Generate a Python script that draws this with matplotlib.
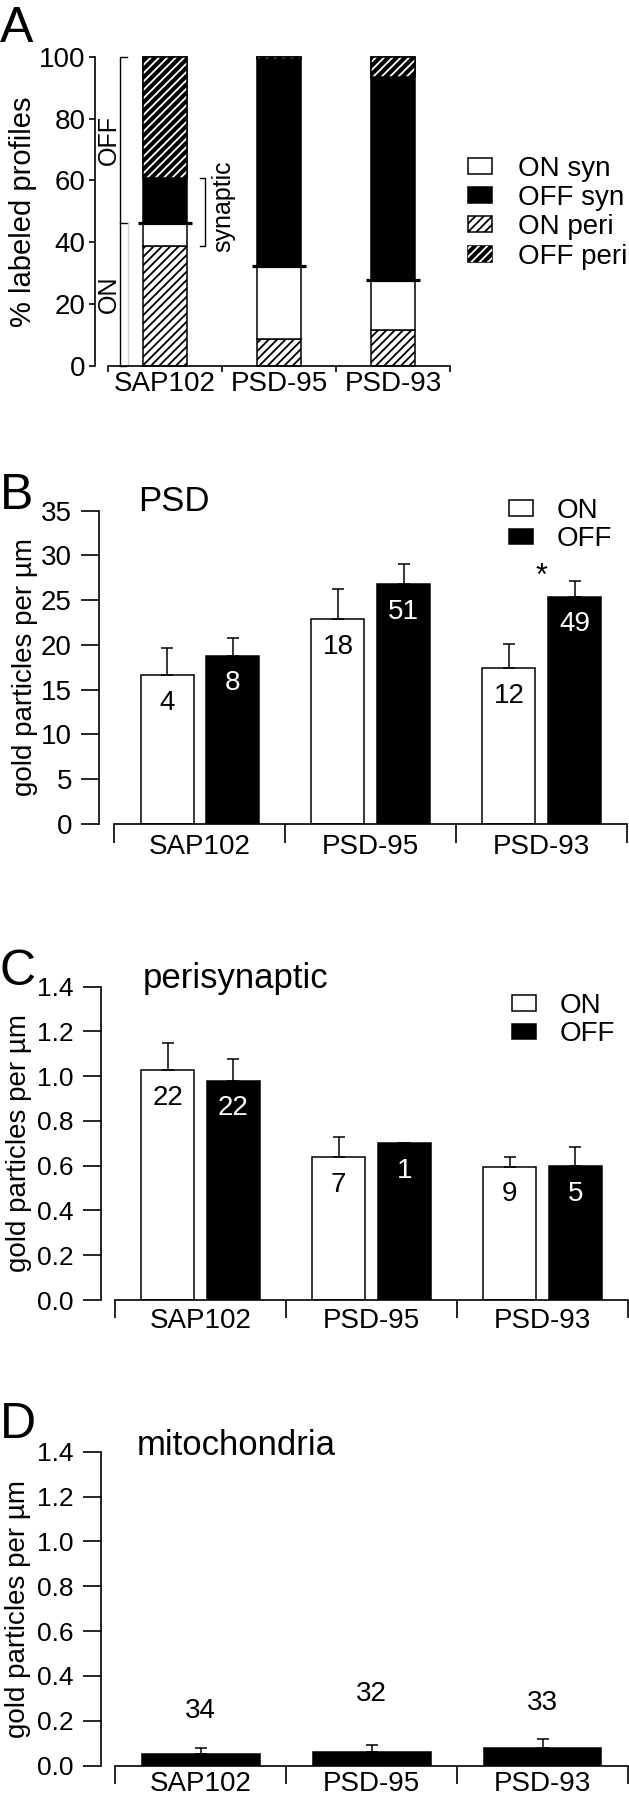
import numpy as np
import matplotlib
matplotlib.use("Agg")
from matplotlib import pyplot as plt
from matplotlib.patches import Patch
from matplotlib.ticker import FormatStrFormatter

plt.rcParams['font.family'] = ['Liberation Sans', 'DejaVu Sans']
plt.rcParams['font.size'] = 19
plt.rcParams['hatch.linewidth'] = 1.3
plt.rcParams['axes.linewidth'] = 1.2

#%%
## Data

groups = ['SAP102', 'PSD-95', 'PSD-93']

# A: % labeled profiles (stacked)
on_peri = [38.9, 8.7, 11.6]
on_syn = [7.4, 23.6, 16.2]
off_syn = [14.4, 66.9, 65.7]
off_peri = [39.3, 0.8, 6.5]

# B: PSD
psd_on = [16.6, 22.9, 17.4]
psd_on_sem = [3.1, 3.4, 2.7]
psd_off = [18.8, 26.8, 25.4]
psd_off_sem = [2.0, 2.2, 1.7]
psd_on_n = [4, 18, 12]
psd_off_n = [8, 51, 49]

# C: perisynaptic
peri_on = [1.028, 0.638, 0.596]
peri_on_sem = [0.122, 0.092, 0.044]
peri_off = [0.980, 0.700, 0.599]
peri_off_sem = [0.096, 0.0, 0.086]
peri_on_n = [22, 7, 9]
peri_off_n = [22, 1, 5]

# D: mitochondria
mito = [0.051, 0.059, 0.080]
mito_sem = [0.029, 0.033, 0.040]
mito_n = [34, 32, 33]
mito_n_y = [0.244, 0.321, 0.281]

#%%
## Layout (pixel boxes)

W, H = 629, 1800
fig = plt.figure(figsize=(W / 100, H / 100), dpi=100)


def box(l, r, b, t):
    return [l / W, 1 - b / H, (r - l) / W, (b - t) / H]


def fx(px):
    return px / W


def fy(py):
    return 1 - py / H


def style(ax, left, ytop, ylen, ypad, xlen, xpad):
    ax.spines['top'].set_visible(False)
    ax.spines['right'].set_visible(False)
    ax.spines['bottom'].set_bounds(-0.5, 2.5)
    ax.spines['left'].set_bounds(0, ytop)
    ax.set_xlim(left, 2.5)
    ax.set_ylim(0, ytop)
    ax.set_xticks([0, 1, 2])
    ax.set_xticklabels(groups)
    ax.set_xticks([-0.5, 0.5, 1.5, 2.5], minor=True)
    ax.tick_params(axis='x', which='major', length=0, pad=xpad)
    ax.tick_params(axis='x', which='minor', length=xlen, width=1.2)
    ax.tick_params(axis='y', length=ylen, width=1.2, pad=ypad)


x = np.arange(3)
errkw = dict(elinewidth=1.1, capthick=1.1, ecolor='black')

#%%
### Panel A

axA = fig.add_axes(box(95, 450, 366, 56.7))
wA = 0.39
b1 = np.array(on_peri)
b2 = b1 + on_syn
b3 = b2 + off_syn
axA.bar(x, on_peri, wA, color='white', edgecolor='black', hatch='////', lw=1.1, clip_on=False)
axA.bar(x, on_syn, wA, bottom=b1, color='white', edgecolor='black', lw=1.1, clip_on=False)
axA.bar(x, off_syn, wA, bottom=b2, color='black', edgecolor='black', lw=1.1, clip_on=False)
axA.bar(x, off_peri, wA, bottom=b3, color='black', edgecolor='black', lw=1.1, clip_on=False)
axA.bar(x, off_peri, wA, bottom=b3, color='none', edgecolor='white', hatch='////', lw=0, clip_on=False)
axA.bar(x, off_peri, wA, bottom=b3, color='none', edgecolor='black', lw=1.1, clip_on=False)
axA.hlines(b2, x - 0.24, x + 0.24, color='black', lw=2.3, zorder=4)

# ON / OFF brackets
axA.plot([-0.333, -0.395, -0.395, -0.338], [100, 100, 0, 0], color='black', lw=1.0, clip_on=False)
axA.plot([-0.395, -0.327], [b2[0], b2[0]], color='black', lw=1.0)
axA.plot([-0.327, -0.327], [0, b2[0]], color='0.82', lw=1.0)
axA.text(-0.49, (b2[0] + 100) / 2, 'OFF', rotation=90, ha='center', va='center', fontsize=18)
axA.text(-0.49, b2[0] / 2, 'ON', rotation=90, ha='center', va='center', fontsize=18)

# synaptic bracket
axA.plot([0.307, 0.351, 0.351, 0.307], [b3[0], b3[0], b1[0], b1[0]], color='black', lw=1.0)
axA.text(0.51, (b1[0] + b3[0]) / 2 + 2, 'synaptic', rotation=90, ha='center', va='center', fontsize=18)

style(axA, -0.614, 100, 4.3, 2.4, 4.3, 3.5)
axA.set_yticks(np.arange(0, 101, 20))
axA.tick_params(axis='both', labelsize=20)
axA.set_ylabel('% labeled profiles', fontsize=21, va='center')
axA.yaxis.set_label_coords(-0.203, 0.5)

handlesA = [Patch(fc='white', ec='black', lw=1.1),
            Patch(fc='black', ec='black', lw=1.1),
            Patch(fc='white', ec='black', hatch='////', lw=1.1),
            (Patch(fc='black', ec='black', lw=1.1), Patch(fc='none', ec='white', hatch='////', lw=0))]
axA.legend(handlesA, ['ON syn', 'OFF syn', 'ON peri', 'OFF peri'],
           loc='center left', bbox_to_anchor=(fx(468), fy(212.5)), bbox_transform=fig.transFigure,
           frameon=False, handlelength=0.85, handleheight=0.5, handletextpad=0.95,
           labelspacing=0.12, borderpad=0, borderaxespad=0, fontsize=20)

#%%
### Panels B, C: ON vs OFF


def on_off(ax, on, on_sem, off, off_sem, on_n, off_n):
    w, d = 0.31, 0.192
    ax.bar(x - d, on, w, color='white', edgecolor='black', lw=1.1,
           yerr=[np.zeros(3), on_sem], capsize=4.2, error_kw=errkw)
    ax.bar(x + d, off, w, color='black', edgecolor='black', lw=1.1,
           yerr=[np.zeros(3), off_sem], capsize=4.2, error_kw=errkw)
    for xi, v, n in zip(x - d, on, on_n):
        ax.annotate(str(n), (xi, v), xytext=(0, -20), textcoords='offset points',
                    ha='center', va='center', color='black', fontsize=20)
    for xi, v, n in zip(x + d, off, off_n):
        ax.annotate(str(n), (xi, v), xytext=(0, -20), textcoords='offset points',
                    ha='center', va='center', color='white', fontsize=20)
    ax.legend([Patch(fc='white', ec='black', lw=1.1), Patch(fc='black', ec='black', lw=1.1)],
              ['ON', 'OFF'], frameon=False, handlelength=0.85, handleheight=0.5,
              handletextpad=0.85, labelspacing=0.1, borderpad=0, borderaxespad=0,
              fontsize=20, loc='center left', bbox_transform=fig.transFigure)


axB = fig.add_axes(box(99.3, 627.3, 824, 510.7))
on_off(axB, psd_on, psd_on_sem, psd_off, psd_off_sem, psd_on_n, psd_off_n)
axB.get_legend().set_bbox_to_anchor((fx(509), fy(525)), transform=fig.transFigure)
axB.text(2, 27.6, '*', ha='center', va='center', fontsize=22)
style(axB, -0.588, 35, 12.7, 7.0, 13.7, 7.5)
axB.set_yticks(np.arange(0, 36, 5))
axB.tick_params(axis='both', labelsize=20)
axB.set_ylabel('gold particles per µm', fontsize=20, va='center')
axB.yaxis.set_label_coords(-0.141, 0.5)

axC = fig.add_axes(box(101, 628, 1300, 986.7))
on_off(axC, peri_on, peri_on_sem, peri_off, peri_off_sem, peri_on_n, peri_off_n)
axC.get_legend().set_bbox_to_anchor((fx(512), fy(1020)), transform=fig.transFigure)
style(axC, -0.582, 1.4, 13.0, 7.0, 13.0, 6.0)
axC.set_yticks(np.arange(0, 1.41, 0.2))
axC.yaxis.set_major_formatter(FormatStrFormatter('%.1f'))
axC.tick_params(axis='y', labelsize=19)
axC.tick_params(axis='x', labelsize=20)
axC.set_ylabel('gold particles per µm', fontsize=20, va='center')
axC.yaxis.set_label_coords(-0.155, 0.5)

#%%
### Panel D

axD = fig.add_axes(box(101, 628, 1765.7, 1451.7))
axD.bar(x, mito, 0.69, color='black', edgecolor='black', lw=1.1,
        yerr=[np.zeros(3), mito_sem], capsize=4.2, error_kw=errkw)
for xi, yi, n in zip(x, mito_n_y, mito_n):
    axD.text(xi, yi, str(n), ha='center', va='center', fontsize=20)
style(axD, -0.582, 1.4, 12.7, 7.0, 12.7, 4.0)
axD.set_yticks(np.arange(0, 1.41, 0.2))
axD.yaxis.set_major_formatter(FormatStrFormatter('%.1f'))
axD.tick_params(axis='y', labelsize=19)
axD.tick_params(axis='x', labelsize=20)
axD.set_ylabel('gold particles per µm', fontsize=20, va='center')
axD.yaxis.set_label_coords(-0.158, 0.5)

#%%
### Letters and titles

for letter, base in zip('ABCD', [42, 509, 985, 1438]):
    fig.text(0, fy(base), letter, fontsize=36, ha='left', va='baseline')

fig.text(fx(138), fy(511), 'PSD', fontsize=25, ha='left', va='baseline')
fig.text(fx(143), fy(988), 'perisynaptic', fontsize=25, ha='left', va='baseline')
fig.text(fx(137), fy(1455), 'mitochondria', fontsize=25, ha='left', va='baseline')

fig.savefig('out.png', dpi=100, facecolor='white')
